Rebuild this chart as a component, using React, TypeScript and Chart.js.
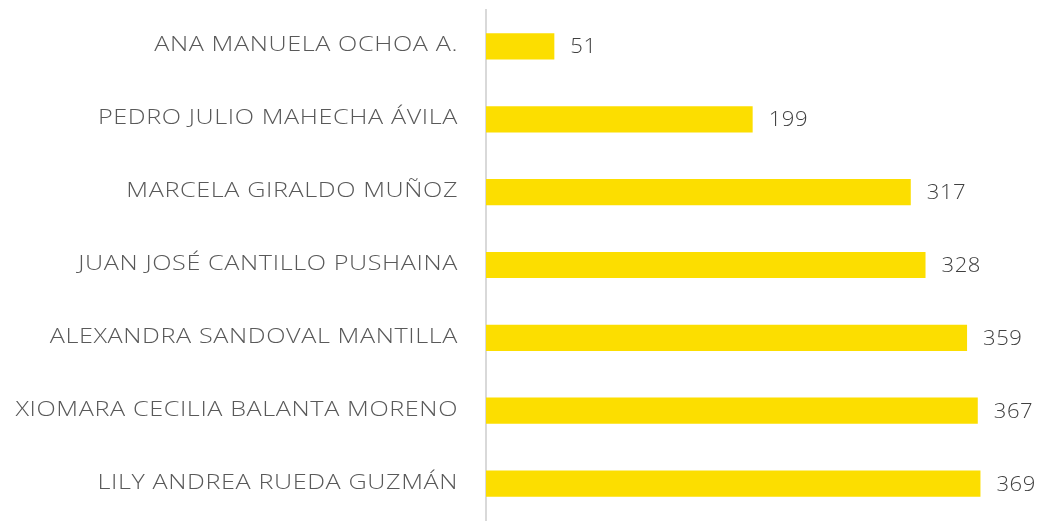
import React, { useEffect, useRef } from "react";
import { Chart, registerables } from "chart.js";

Chart.register(...registerables);

const categories = [
  "ANA MANUELA OCHOA A.",
  "PEDRO JULIO MAHECHA ÁVILA",
  "MARCELA GIRALDO MUÑOZ",
  "JUAN JOSÉ CANTILLO PUSHAINA",
  "ALEXANDRA SANDOVAL MANTILLA",
  "XIOMARA CECILIA BALANTA MORENO",
  "LILY ANDREA RUEDA GUZMÁN",
];
const values = [51, 199, 317, 328, 359, 367, 369];

const FONT = "'Open Sans', 'DejaVu Sans', sans-serif";

const textPlugin = {
  id: "textPlugin",
  afterDatasetsDraw(chart: any) {
    const ctx = chart.ctx;
    const meta = chart.getDatasetMeta(0);
    const yScale = chart.scales.y;
    // category labels (stretched to mimic a wide geometric face)
    categories.forEach((label, i) => {
      const y = yScale.getPixelForValue(i);
      ctx.save();
      ctx.font = `300 21px ${FONT}`;
      ctx.fillStyle = "#595959";
      ctx.textAlign = "right";
      ctx.textBaseline = "middle";
      (ctx as any).letterSpacing = "0.5px";
      ctx.translate(yScale.right - 28, y - 1);
      ctx.scale(1.2, 1);
      ctx.fillText(label, 0, 0);
      ctx.restore();
    });
    // value labels
    meta.data.forEach((bar: any, i: number) => {
      ctx.save();
      ctx.font = `300 21px ${FONT}`;
      ctx.fillStyle = "#404040";
      ctx.textAlign = "left";
      ctx.textBaseline = "middle";
      (ctx as any).letterSpacing = "0.5px";
      ctx.translate(bar.x + 16, bar.y + 1);
      ctx.scale(1.05, 1);
      ctx.fillText(String(values[i]), 0, 0);
      ctx.restore();
    });
  },
};

export default function App() {
  const ref = useRef<HTMLCanvasElement>(null);
  useEffect(() => {
    if (!ref.current) return;
    const chart = new Chart(ref.current, {
      type: "bar",
      data: {
        labels: categories,
        datasets: [
          {
            data: values,
            backgroundColor: "#FCDE00",
            categoryPercentage: 1,
            barPercentage: 0.36,
          },
        ],
      },
      options: {
        indexAxis: "y",
        animation: false,
        responsive: false,
        layout: { padding: { top: 10, bottom: 2, right: 19, left: 0 } },
        plugins: { legend: { display: false }, tooltip: { enabled: false } },
        scales: {
          x: { display: false, min: 0, max: 400 },
          y: {
            afterFit(scale: any) {
              scale.width = 486;
            },
            grid: { display: false, drawTicks: false },
            border: { display: true, color: "#D9D9D9", width: 2 },
            ticks: { display: false },
          },
        },
      },
      plugins: [textPlugin],
    });
    return () => chart.destroy();
  }, []);
  return (
    <div style={{ position: "fixed", left: 0, top: 0, width: 1041, height: 522, background: "#fff" }}>
      <canvas ref={ref} width={1041} height={522} style={{ display: "block" }} />
    </div>
  );
}
